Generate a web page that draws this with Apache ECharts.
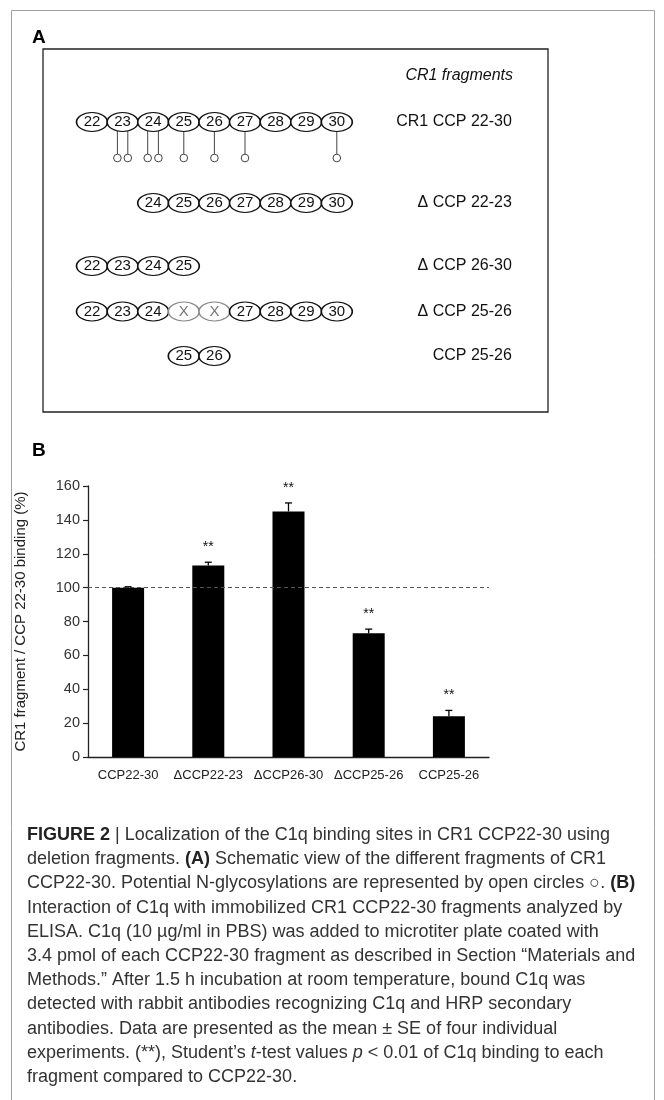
<!DOCTYPE html>
<html>
<head>
<meta charset="utf-8">
<script src="https://cdn.jsdelivr.net/npm/echarts@6/dist/echarts.min.js"></script>
<style>
html,body{margin:0;padding:0;background:#fff;}
#chart{width:664px;height:1100px;}
</style>
</head>
<body>
<div id="chart"></div>
<script>
// ---------- DATA ----------
const rowNames = ['CR1 CCP 22-30', 'Δ CCP 22-23', 'Δ CCP 26-30', 'Δ CCP 25-26', 'CCP 25-26'];
const rowModules = [
  [22, 23, 24, 25, 26, 27, 28, 29, 30],
  [24, 25, 26, 27, 28, 29, 30],
  [22, 23, 24, 25],
  [22, 23, 24, 25, 26, 27, 28, 29, 30],
  [25, 26]
];
const rowDeleted = [[], [], [], [25, 26], []];
const glycoSites = [22.83, 23.17, 23.82, 24.17, 25, 26, 27, 30];

const barCategories = ['CCP22-30', 'ΔCCP22-23', 'ΔCCP26-30', 'ΔCCP25-26', 'CCP25-26'];
const barValues = [100, 113, 145, 73, 24];
const barSE = [0.5, 2, 5, 2.5, 3.5];
const barSig = ['', '**', '**', '**', '**'];
const yTicks = [0, 20, 40, 60, 80, 100, 120, 140, 160];
const refLine = 100;

// ---------- LAYOUT ----------
const FONT = '"Liberation Sans", Arial, Helvetica, sans-serif';
const modLeft = 92, modWidth = 244.8;
const rowCenters = [122, 203, 266, 311.5, 356];

const grids = [], xAxes = [], yAxes = [], series = [];
rowNames.forEach((name, i) => {
  grids.push({left: modLeft, width: modWidth, top: rowCenters[i] - 9, height: 18});
  xAxes.push({type: 'value', gridIndex: i, min: 22, max: 30, show: false});
  yAxes.push({
    type: 'category', gridIndex: i, data: [name], position: 'right',
    axisLine: {show: false}, axisTick: {show: false}, splitLine: {show: false},
    axisLabel: {align: 'right', margin: 175, fontSize: 16, color: '#111', fontFamily: FONT}
  });
  series.push({
    type: 'scatter', xAxisIndex: i, yAxisIndex: i,
    symbol: 'path://M0,9 A15,9 0 1,1 30,9 A15,9 0 1,1 0,9 Z',
    symbolSize: [31, 19],
    itemStyle: {color: '#fff', borderColor: '#111', borderWidth: 1.3, opacity: 1},
    label: {show: true, position: 'inside', formatter: '{b}', fontSize: 15, color: '#111', fontFamily: FONT},
    emphasis: {disabled: true},
    data: rowModules[i].map(m => {
      const del = rowDeleted[i].indexOf(m) >= 0;
      return {
        name: del ? 'X' : String(m),
        value: [m, name],
        itemStyle: del ? {borderColor: '#8a8a8a'} : undefined,
        label: del ? {color: '#777'} : undefined
      };
    })
  });
});

// glycosylation grid (index 5)
grids.push({left: modLeft, width: modWidth, top: 131, height: 27});
xAxes.push({type: 'value', gridIndex: 5, min: 22, max: 30, show: false});
yAxes.push({type: 'value', gridIndex: 5, min: 0, max: 1, show: false});
series.push({
  type: 'custom', xAxisIndex: 5, yAxisIndex: 5,
  data: glycoSites.map(v => [v, 0]),
  renderItem: function (params, api) {
    const top = api.coord([api.value(0), 1]);
    const bot = api.coord([api.value(0), 0]);
    return {
      type: 'group',
      children: [
        {type: 'line', shape: {x1: top[0], y1: top[1], x2: bot[0], y2: bot[1] - 3.8},
         style: {stroke: '#444', lineWidth: 1}},
        {type: 'circle', shape: {cx: bot[0], cy: bot[1], r: 3.8},
         style: {fill: '#fff', stroke: '#444', lineWidth: 1}}
      ]
    };
  }
});

// bar chart grid (index 6)
grids.push({left: 88, width: 401, top: 486, height: 271});
xAxes.push({
  type: 'category', gridIndex: 6, data: barCategories,
  axisLine: {lineStyle: {color: '#222', width: 1.3}},
  axisTick: {show: false},
  axisLabel: {interval: 0, fontSize: 13, color: '#222', margin: 12, fontFamily: FONT}
});
yAxes.push({
  type: 'value', gridIndex: 6, min: yTicks[0], max: yTicks[yTicks.length - 1], interval: 20,
  name: 'CR1 fragment / CCP 22-30 binding (%)', nameLocation: 'middle', nameRotate: 90, nameGap: 60,
  nameTextStyle: {fontSize: 15, color: '#222', fontFamily: FONT},
  axisLine: {show: true, lineStyle: {color: '#222', width: 1.3}},
  axisTick: {show: true, length: 5, lineStyle: {color: '#222', width: 1.2}},
  splitLine: {show: false},
  axisLabel: {fontSize: 14.5, color: '#333', margin: 8, fontFamily: FONT}
});
series.push({
  type: 'bar', xAxisIndex: 6, yAxisIndex: 6, data: barValues, barWidth: 32,
  itemStyle: {color: '#000'},
  emphasis: {disabled: true},
  markLine: {
    silent: true, symbol: 'none', label: {show: false},
    lineStyle: {color: '#555', type: [4, 3], width: 1},
    data: [{yAxis: refLine}]
  }
});
series.push({
  type: 'custom', xAxisIndex: 6, yAxisIndex: 6, z: 5,
  data: barValues.map((v, i) => [i, v, v + barSE[i]]),
  renderItem: function (params, api) {
    const base = api.coord([api.value(0), api.value(1)]);
    const top = api.coord([api.value(0), api.value(2)]);
    const s = barSig[params.dataIndex];
    const children = [
      {type: 'line', shape: {x1: base[0], y1: base[1], x2: top[0], y2: top[1]}, style: {stroke: '#000', lineWidth: 1.3}},
      {type: 'line', shape: {x1: top[0] - 3.5, y1: top[1], x2: top[0] + 3.5, y2: top[1]}, style: {stroke: '#000', lineWidth: 1.3}}
    ];
    if (s) {
      children.push({type: 'text', style: {text: s, x: top[0], y: top[1] - 15, align: 'center', verticalAlign: 'middle',
        fontSize: 14, fill: '#111', fontFamily: FONT}});
    }
    return {type: 'group', children: children};
  }
});

// ---------- caption ----------
const capLines = [
  '{b|FIGURE 2} | Localization of the C1q binding sites in CR1 CCP22-30 using',
  'deletion fragments. {b|(A)} Schematic view of the different fragments of CR1',
  'CCP22-30. Potential N-glycosylations are represented by open circles ○. {b|(B)}',
  'Interaction of C1q with immobilized CR1 CCP22-30 fragments analyzed by',
  'ELISA. C1q (10 µg/ml in PBS) was added to microtiter plate coated with',
  '3.4 pmol of each CCP22-30 fragment as described in Section “Materials and',
  'Methods.” After 1.5 h incubation at room temperature, bound C1q was',
  'detected with rabbit antibodies recognizing C1q and HRP secondary',
  'antibodies. Data are presented as the mean ± SE of four individual',
  'experiments. (**), Student’s {i|t}-test values {i|p} < 0.01 of C1q binding to each',
  'fragment compared to CCP22-30.'
];
const capSize = 18;
const capRich = {
  b: {fontWeight: 'bold', fontSize: capSize, fontFamily: FONT, fill: '#222'},
  i: {fontStyle: 'italic', fontSize: capSize, fontFamily: FONT, fill: '#333'}
};
const graphics = [
  {type: 'rect', shape: {x: 11.5, y: 10.5, width: 643, height: 1100}, style: {fill: 'none', stroke: '#a0a0a0', lineWidth: 1}, silent: true},
  {type: 'rect', shape: {x: 43, y: 49, width: 505, height: 363}, style: {fill: 'none', stroke: '#222', lineWidth: 1.3}, silent: true},
  {type: 'text', style: {text: 'A', x: 32, y: 38, verticalAlign: 'middle', fontSize: 19, fontWeight: 'bold', fill: '#000', fontFamily: FONT}},
  {type: 'text', style: {text: 'B', x: 32, y: 451, verticalAlign: 'middle', fontSize: 19, fontWeight: 'bold', fill: '#000', fontFamily: FONT}},
  {type: 'text', style: {text: 'CR1 fragments', x: 513, y: 76, align: 'right', verticalAlign: 'middle', fontSize: 16, fontStyle: 'italic', fill: '#111', fontFamily: FONT}}
];
capLines.forEach((t, i) => {
  graphics.push({type: 'text', style: {text: t, x: 27, y: 835 + i * 24.2, verticalAlign: 'middle',
    fontSize: capSize, fill: '#333', fontFamily: FONT, rich: capRich}});
});

const chart = echarts.init(document.getElementById('chart'), null, {renderer: 'canvas'});
chart.setOption({
  animation: false,
  backgroundColor: '#fff',
  grid: grids,
  xAxis: xAxes,
  yAxis: yAxes,
  series: series,
  graphic: graphics
});
</script>
</body>
</html>
